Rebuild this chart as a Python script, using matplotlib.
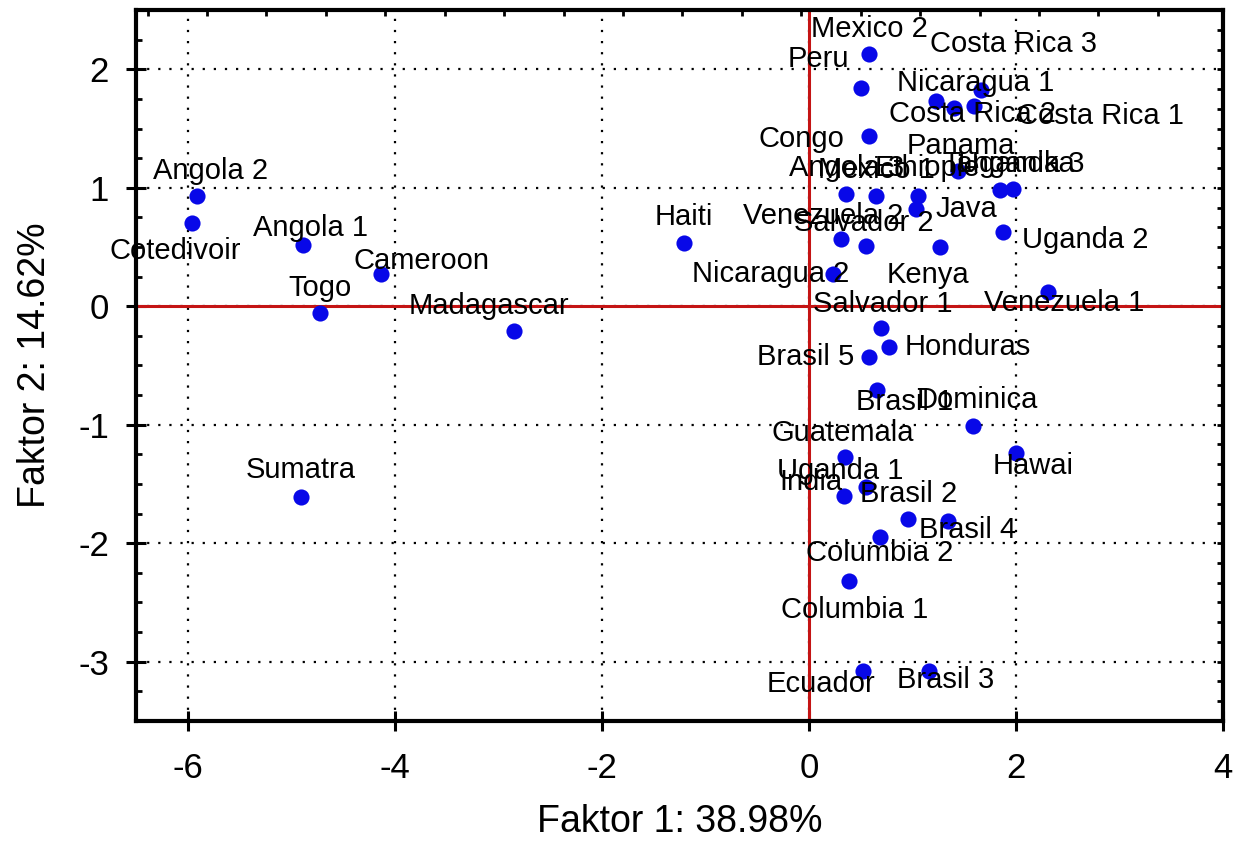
import matplotlib
matplotlib.use("Agg")
from matplotlib import pyplot as plt
from matplotlib.ticker import MultipleLocator, FixedLocator
import numpy as np

plt.rcParams['font.family'] = ['Liberation Sans', 'DejaVu Sans']
plt.rcParams['axes.unicode_minus'] = False

# factor scores of the coffee samples
names = ['Angola 2', 'Cotedivoir', 'Angola 1', 'Cameroon', 'Togo', 'Madagascar',
         'Sumatra', 'Haiti', 'Mexico 2', 'Peru', 'Costa Rica 3', 'Nicaragua 1',
         'Costa Rica 2', 'Costa Rica 1', 'Congo', 'Panama', 'Angola 3', 'Mexico 1',
         'Ethiopie', 'Java', 'Tanganika', 'Uganda 3', 'Venezuela 2', 'Salvador 2',
         'Kenya', 'Uganda 2', 'Nicaragua 2', 'Venezuela 1', 'Salvador 1', 'Honduras',
         'Brasil 5', 'Brasil 1', 'Dominica', 'Hawai', 'Guatemala', 'Uganda 1',
         'India', 'Brasil 2', 'Brasil 4', 'Columbia 2', 'Columbia 1', 'Ecuador',
         'Brasil 3']
f1 = [-5.91, -5.96, -4.89, -4.13, -4.72, -2.85,
      -4.91, -1.21, 0.58, 0.50, 1.66, 1.23,
      1.40, 1.59, 0.58, 1.44, 0.36, 0.65,
      1.05, 1.03, 1.85, 1.97, 0.31, 0.55,
      1.27, 1.87, 0.23, 2.31, 0.70, 0.77,
      0.58, 0.66, 1.58, 2.00, 0.35, 0.55,
      0.34, 0.96, 1.34, 0.69, 0.39, 0.52,
      1.16]
f2 = [0.93, 0.70, 0.52, 0.27, -0.06, -0.21,
      -1.61, 0.53, 2.13, 1.84, 1.83, 1.73,
      1.67, 1.69, 1.44, 1.14, 0.95, 0.93,
      0.93, 0.82, 0.98, 0.99, 0.57, 0.51,
      0.50, 0.63, 0.27, 0.12, -0.18, -0.34,
      -0.43, -0.71, -1.01, -1.24, -1.27, -1.53,
      -1.60, -1.80, -1.81, -1.95, -2.32, -3.08,
      -3.08]

# where each label sits relative to its point (pixels, right / down)
lab_dx = [13, -17, 8, 40, 0, -25,
          0, 0, 0, -42, 33, 39,
          19, 127, -68, 3, 0, 0,
          10, 51, 8, 8, -18, -2,
          -12, 83, -62, 16, 1, 79,
          -63, 27, 5, 17, -2, -26,
          -33, 0, 20, -1, 5, -42,
          17]
lab_dy = [-25, 28, -17, -13, -25, -25,
          -27, -26, -25, -29, -46, -18,
          6, 10, 3, -25, -26, -26,
          -28, 0, -26, -25, -23, -23,
          28, 8, 0, 11, -24, 0,
          0, 12, -26, 13, -24, -16,
          -14, -25, 9, 16, 29, 13,
          9]

fig = plt.figure(figsize=(12.48, 8.48), dpi=100)
ax = fig.add_axes([0.109, 0.150, 0.871, 0.838])
ax.set_xlim(-6.5, 4)
ax.set_ylim(-3.5, 2.5)

ax.xaxis.set_major_locator(MultipleLocator(2))
ax.yaxis.set_major_locator(MultipleLocator(1))
ax.yaxis.set_minor_locator(MultipleLocator(0.25))
ax.grid(True, which='major', color='black', linestyle=(0, (1, 4)), linewidth=1.6)
ax.axhline(0, color='#c41414', linewidth=2.2, zorder=2)
ax.axvline(0, color='#c41414', linewidth=2.2, zorder=2)

ax.scatter(f1, f2, s=135, color='#0808e8', zorder=3, linewidths=0)
for n, x, y, dx, dy in zip(names, f1, f2, lab_dx, lab_dy):
    ax.annotate(n, (x, y), xytext=(dx, -dy), textcoords='offset pixels',
                ha='center', va='center', fontsize=21, color='black', zorder=4)

for s in ax.spines.values():
    s.set_linewidth(3)
ax.tick_params(which='major', direction='inout', length=15, width=2.2,
               labelsize=25)
ax.tick_params(axis='x', which='major', pad=15)
ax.tick_params(axis='y', which='major', pad=12)
ax.tick_params(which='minor', direction='in', length=4, width=2)
ax.tick_params(axis='x', which='minor', bottom=False)

# extra small ticks on the top and right frame
top = ax.secondary_xaxis('top')
top.xaxis.set_major_locator(FixedLocator(np.arange(3.37, -6.5, -0.574)))
top.tick_params(direction='in', length=4, width=2, labeltop=False)
right = ax.secondary_yaxis('right')
right.yaxis.set_major_locator(FixedLocator(np.arange(2.5, -3.5, -1 / 6)))
right.tick_params(direction='in', length=4, width=2, labelright=False)
for a in (top, right):
    for s in a.spines.values():
        s.set_visible(False)

ax.set_xlabel('Faktor 1: 38.98%', fontsize=27, labelpad=14)
ax.set_ylabel('Faktor 2: 14.62%', fontsize=27, labelpad=18)

fig.savefig('out.png', dpi=100)
